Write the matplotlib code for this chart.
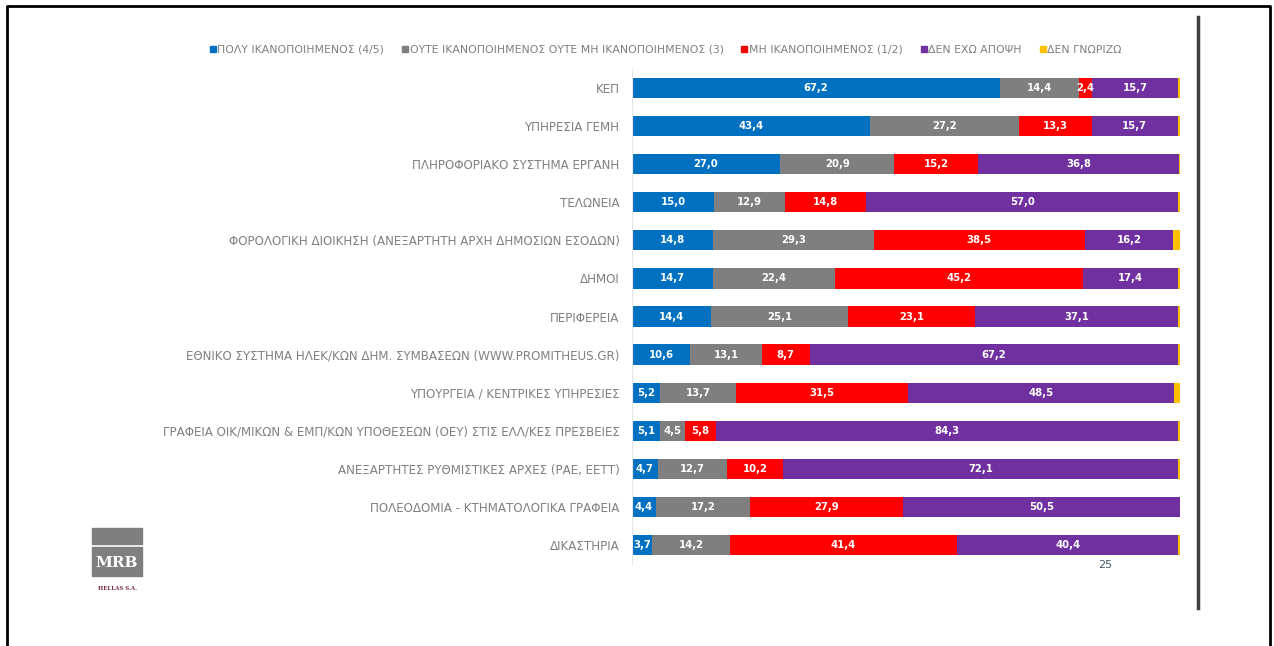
import numpy as np
import matplotlib
matplotlib.use("Agg")
import matplotlib.pyplot as plt
from matplotlib.patches import Rectangle
from matplotlib.lines import Line2D

# categories from top to bottom
categories = [
    "ΚΕΠ",
    "ΥΠΗΡΕΣΙΑ ΓΕΜΗ",
    "ΠΛΗΡΟΦΟΡΙΑΚΟ ΣΥΣΤΗΜΑ ΕΡΓΑΝΗ",
    "ΤΕΛΩΝΕΙΑ",
    "ΦΟΡΟΛΟΓΙΚΗ ΔΙΟΙΚΗΣΗ (ΑΝΕΞΑΡΤΗΤΗ ΑΡΧΗ ΔΗΜΟΣΙΩΝ ΕΣΟΔΩΝ)",
    "ΔΗΜΟΙ",
    "ΠΕΡΙΦΕΡΕΙΑ",
    "ΕΘΝΙΚΟ ΣΥΣΤΗΜΑ ΗΛΕΚ/ΚΩΝ ΔΗΜ. ΣΥΜΒΑΣΕΩΝ (WWW.PROMITHEUS.GR)",
    "ΥΠΟΥΡΓΕΙΑ / ΚΕΝΤΡΙΚΕΣ ΥΠΗΡΕΣΙΕΣ",
    "ΓΡΑΦΕΙΑ ΟΙΚ/ΜΙΚΩΝ & ΕΜΠ/ΚΩΝ ΥΠΟΘΕΣΕΩΝ (ΟΕΥ) ΣΤΙΣ ΕΛΛ/ΚΕΣ ΠΡΕΣΒΕΙΕΣ",
    "ΑΝΕΞΑΡΤΗΤΕΣ ΡΥΘΜΙΣΤΙΚΕΣ ΑΡΧΕΣ (ΡΑΕ, ΕΕΤΤ)",
    "ΠΟΛΕΟΔΟΜΙΑ - ΚΤΗΜΑΤΟΛΟΓΙΚΑ ΓΡΑΦΕΙΑ",
    "ΔΙΚΑΣΤΗΡΙΑ",
]

series_names = [
    "ΠΟΛΥ ΙΚΑΝΟΠΟΙΗΜΕΝΟΣ (4/5)",
    "ΟΥΤΕ ΙΚΑΝΟΠΟΙΗΜΕΝΟΣ ΟΥΤΕ ΜΗ ΙΚΑΝΟΠΟΙΗΜΕΝΟΣ (3)",
    "ΜΗ ΙΚΑΝΟΠΟΙΗΜΕΝΟΣ (1/2)",
    "ΔΕΝ ΕΧΩ ΑΠΟΨΗ",
    "ΔΕΝ ΓΝΩΡΙΖΩ",
]

very_satisfied = [67.2, 43.4, 27.0, 15.0, 14.8, 14.7, 14.4, 10.6, 5.2, 5.1, 4.7, 4.4, 3.7]
neutral = [14.4, 27.2, 20.9, 12.9, 29.3, 22.4, 25.1, 13.1, 13.7, 4.5, 12.7, 17.2, 14.2]
not_satisfied = [2.4, 13.3, 15.2, 14.8, 38.5, 45.2, 23.1, 8.7, 31.5, 5.8, 10.2, 27.9, 41.4]
no_opinion = [15.7, 15.7, 36.8, 57.0, 16.2, 17.4, 37.1, 67.2, 48.5, 84.3, 72.1, 50.5, 40.4]
dont_know = [0.3, 0.4, 0.1, 0.3, 1.2, 0.3, 0.3, 0.4, 1.1, 0.3, 0.3, 0.0, 0.3]

colors = ["#0070C0", "#7F7F7F", "#FF0000", "#7030A0", "#FFC000"]

fig = plt.figure(figsize=(12.74, 6.46), dpi=100)
ax = fig.add_axes([632 / 1274, 1 - 564 / 646, 548 / 1274, 495 / 646])

y = np.arange(len(categories))
all_series = [very_satisfied, neutral, not_satisfied, no_opinion, dont_know]
left = np.zeros(len(categories))
for i, (vals, col) in enumerate(zip(all_series, colors)):
    vals = np.array(vals)
    ax.barh(y, vals, left=left, height=0.53, color=col, edgecolor="none")
    if i < 4:
        for yy, l, v in zip(y, left, vals):
            ax.text(l + v / 2, yy, f"{v:.1f}".replace(".", ","), ha="center", va="center",
                    color="white", fontsize=7.3, fontweight="bold")
    left += vals

ax.set_xlim(0, 100)
ax.set_ylim(12.5, -0.5)
ax.set_xticks([])
ax.set_yticks(y)
ax.set_yticklabels(categories, fontsize=8.6, color="#808080")
ax.tick_params(axis="y", length=0, pad=9)
for s in ["top", "right", "bottom"]:
    ax.spines[s].set_visible(False)
ax.spines["left"].set_color("#E4E8EE")

# legend
handles = [Line2D([], [], marker="s", linestyle="none", markersize=5, color=c) for c in colors]
fig.legend(handles, series_names, loc="center", bbox_to_anchor=(0.522, 1 - 50 / 646), ncol=5,
           frameon=False, prop={"size": 7.8}, labelcolor="#7F7F7F",
           handletextpad=0.05, columnspacing=1.5, handlelength=0.8)

# page number
fig.text(1105 / 1274, 1 - 565 / 646, "25", ha="center", va="center", fontsize=8,
         color="#44546A")

# logo
fig.add_artist(Rectangle((92 / 1274, 1 - 544 / 646), 50 / 1274, 16 / 646,
                         transform=fig.transFigure, color="#7F7F7F"))
fig.add_artist(Rectangle((92 / 1274, 1 - 576 / 646), 50 / 1274, 29 / 646,
                         transform=fig.transFigure, color="#7F7F7F"))
fig.text(117 / 1274, 1 - 563 / 646, "MRB", ha="center", va="center", fontsize=11,
         color="white", family="DejaVu Serif", fontweight="bold")
fig.text(117 / 1274, 1 - 588 / 646, "HELLAS S.A.", ha="center", va="center", fontsize=4,
         color="#7B2C3F", family="DejaVu Serif", fontweight="bold")

# frame and divider
fig.add_artist(Line2D([7 / 1274, 7 / 1274, 1270 / 1274, 1270 / 1274],
                      [0, 1 - 6 / 646, 1 - 6 / 646, 0], transform=fig.transFigure,
                      color="black", linewidth=2))
fig.add_artist(Line2D([1198 / 1274, 1198 / 1274], [1 - 17 / 646, 1 - 608 / 646],
                      transform=fig.transFigure, color="#404040", linewidth=2.5))

fig.savefig("out.png", dpi=100)
